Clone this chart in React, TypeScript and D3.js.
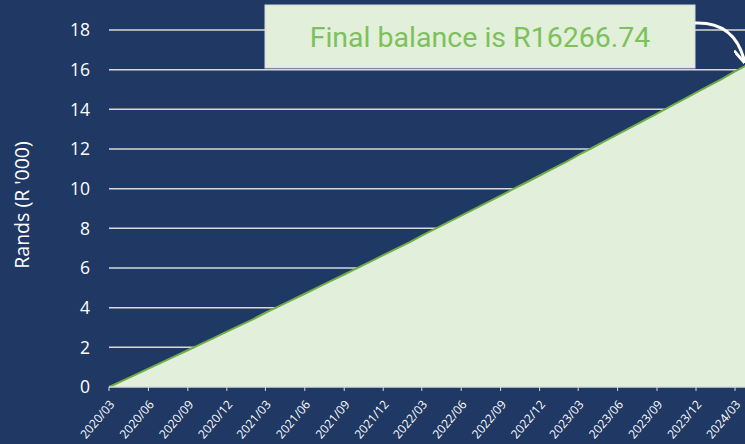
import React from "react";
import * as d3 from "d3";

const startMonth = "2020/03";
const balances = [
  0, 0.306, 0.613, 0.922, 1.231, 1.541, 1.853, 2.165, 2.479, 2.793,
  3.109, 3.425, 3.743, 4.062, 4.381, 4.702, 5.024, 5.347, 5.671, 5.996,
  6.323, 6.65, 6.978, 7.308, 7.638, 7.97, 8.303, 8.637, 8.972, 9.308,
  9.645, 9.984, 10.323, 10.664, 11.006, 11.349, 11.693, 12.038, 12.384, 12.732,
  13.08, 13.43, 13.781, 14.134, 14.487, 14.841, 15.197, 15.554, 15.912, 16.267,
];
const xTickLabels = [
  "2020/03", "2020/06", "2020/09", "2020/12", "2021/03", "2021/06", "2021/09", "2021/12",
  "2022/03", "2022/06", "2022/09", "2022/12", "2023/03", "2023/06", "2023/09", "2023/12", "2024/03",
];
const yTicks = [0, 2, 4, 6, 8, 10, 12, 14, 16, 18];
const yLabel = "Rands (R '000)";
const annotation = "Final balance is R16266.74";

const W = 745;
const H = 444;
const BG = "#203864";

export default function App() {
  const parse = d3.utcParse("%Y/%m");
  const start = parse(startMonth) as Date;
  const data = balances.map((v, i) => ({ date: d3.utcMonth.offset(start, i), v }));
  const tickDates = xTickLabels.map((l) => parse(l) as Date);

  const x = d3.scaleUtc().domain([tickDates[0], tickDates[tickDates.length - 1]]).range([109, 735]);
  const y = d3.scaleLinear().domain([0, 18]).range([387, 30]);

  const area = d3.area<any>().x((d) => x(d.date)).y0(y(0)).y1((d) => y(d.v));
  const line = d3.line<any>().x((d) => x(d.date)).y((d) => y(d.v));

  const last = data[data.length - 1];
  const lx = x(last.date);
  const ly = y(last.v);

  const tickFont = "Open Sans, sans-serif";

  return (
    <svg width={W} height={H} style={{ position: "absolute", left: 0, top: 0, background: BG }}>
      <defs>
        <marker id="ah" viewBox="0 0 10 10" refX="8" refY="5" markerWidth="5" markerHeight="5" orient="auto">
          <path d="M0,0 L10,5 L0,10" fill="none" stroke="#ffffff" strokeWidth={2} />
        </marker>
      </defs>
      <rect x={0} y={0} width={W} height={H} fill={BG} />
      {yTicks.filter((t) => t > 0).map((t) => (
        <line key={t} x1={109} x2={W} y1={y(t)} y2={y(t)} stroke="#d9d9d9" strokeWidth={1.5} />
      ))}
      {yTicks.map((t) => (
        <text key={t} x={90} y={y(t)} dy="0.36em" textAnchor="end" fill="#ffffff" fontSize={17.5} fontFamily={tickFont}>
          {t}
        </text>
      ))}
      <path d={area(data) || ""} fill="#e2efda" />
      <path d={line(data) || ""} fill="none" stroke="#70ad47" strokeWidth={2} />
      <line x1={109} x2={W} y1={y(0)} y2={y(0)} stroke="#d9d9d9" strokeWidth={1.5} />
      {tickDates.map((d, i) => (
        <g key={i} transform={`translate(${x(d)},${y(0)})`}>
          <line y1={0} y2={4} stroke="#d9d9d9" strokeWidth={1} />
          <text
            transform="translate(3,15) rotate(-50)"
            textAnchor="end"
            dy="0.35em"
            fill="#ffffff"
            fontSize={12}
            fontFamily={tickFont}
          >
            {xTickLabels[i]}
          </text>
        </g>
      ))}
      <text
        transform={`translate(22,205) rotate(-90)`}
        textAnchor="middle"
        dy="0.35em"
        fill="#ffffff"
        fontSize={19.5}
        fontFamily={tickFont}
      >
        {yLabel}
      </text>
      <rect x={265} y={5} width={430} height={63} fill="#e2efda" stroke="#d9d9d9" strokeWidth={1} />
      <text x={480} y={37} dy="0.35em" textAnchor="middle" fill="#7dc15c" fontSize={28.5} fontFamily="Roboto, sans-serif">
        {annotation}
      </text>
      <path
        d={`M695,23 C722,22 738,36 ${lx - 4},${ly - 4}`}
        fill="none"
        stroke="#ffffff"
        strokeWidth={3}
        markerEnd="url(#ah)"
      />
    </svg>
  );
}
